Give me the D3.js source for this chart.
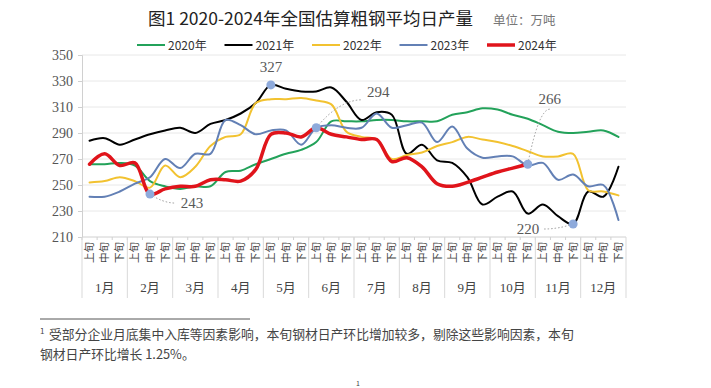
<!DOCTYPE html>
<html>
<head>
<meta charset="utf-8">
<script src="https://cdn.jsdelivr.net/npm/d3@7"></script>
<style>
  body { margin: 0; background: #fff; }
  #chart svg { display: block; }
</style>
</head>
<body>
<div id="chart"></div>
<script>
var months = ["1月", "2月", "3月", "4月", "5月", "6月", "7月", "8月", "9月", "10月", "11月", "12月"];
var tenDays = ["上旬", "中旬", "下旬"];
var yTicks = [210, 230, 250, 270, 290, 310, 330, 350];

var seriesNames = ["2020年", "2021年", "2022年", "2023年", "2024年"];
var v2020 = [266, 266, 267, 265, 253, 249, 247, 249, 249, 260, 261, 266, 270, 274, 277, 283, 299, 299, 299, 300, 300, 299, 299, 299, 304, 306, 309, 308, 304, 301, 296, 291, 290, 291, 292, 287];
var v2021 = [284, 286, 281, 285, 289, 292, 294, 290, 297, 300, 305, 313, 327, 324, 322, 322, 325, 314, 300, 306, 304, 274, 281, 269, 267, 256, 235, 241, 245, 228, 235, 226, 220, 245, 241, 264];
var v2022 = [252, 253, 256, 253, 248, 265, 256, 264, 280, 287, 289, 313, 316, 316, 317, 315, 312, 291, 287, 285, 270, 273, 275, 280, 283, 287, 285, 283, 280, 276, 272, 272, 274, 246, 245, 242];
var v2023 = [241, 241, 245, 251, 256, 270, 263, 274, 274, 300, 296, 289, 292, 292, 281, 294, 296, 294, 294, 305, 294, 296, 298, 283, 295, 278, 271, 272, 272, 265, 267, 254, 258, 249, 250, 223];
var v2024 = [266, 274, 265, 267, 243, 247, 249, 249, 254, 254, 253, 262, 289, 290, 287, 294, 289, 287, 285, 285, 268, 271, 264, 251, 249, 252, 256, 260, 263, 266];

// labelled points: series, period index, label offset
var notes = [
    { s: "2021年", i: 12, dx: 0, dy: -18, lead: false },
    { s: "2024年", i: 15, dx: 62, dy: -36, lead: true },
    { s: "2024年", i: 4, dx: 42, dy: 9, lead: true },
    { s: "2024年", i: 29, dx: 22, dy: -65, lead: true },
    { s: "2021年", i: 32, dx: -45, dy: 5, lead: true }
];

var colors = ["#23a25a", "#000000", "#f2c230", "#6380b5", "#e0141b"];
var widths = [2, 2, 2, 2, 3.5];
var values = [v2020, v2021, v2022, v2023, v2024];

var W = 711, H = 388;
var plotLeft = 82, plotRight = 626, plotTop = 55, plotBottom = 237;

var svg = d3.select("#chart")
  .append("svg")
    .attr("width", W)
    .attr("height", H)
    .style("background", "white");

var periods = [];
months.forEach(function(m, mi) {
    tenDays.forEach(function(t, ti) { periods.push(mi * 3 + ti); });
});

var x = d3.scaleBand()
    .domain(periods)
    .range([plotLeft, plotRight])
    .padding(0);
var bw = x.bandwidth();
var cx = function(i) { return x(i) + bw / 2; };

var y = d3.scaleLinear()
    .domain([210, 350])
    .range([plotBottom, plotTop]);

// title
svg.append("text")
    .attr("x", 148).attr("y", 25)
    .style("font-family", "'Noto Sans CJK SC', sans-serif")
    .style("font-size", "17.5px")
    .style("fill", "#222")
    .text("图1 2020-2024年全国估算粗钢平均日产量");
svg.append("text")
    .attr("x", 493).attr("y", 25)
    .style("font-family", "'Noto Sans CJK SC', sans-serif")
    .style("font-size", "12.5px")
    .style("fill", "#777")
    .text("单位：万吨");

// legend
var legend = svg.append("g")
    .selectAll("g")
    .data(seriesNames)
    .enter()
    .append("g")
      .attr("transform", function(d, i) { return "translate(" + (137 + i * 87.5) + ",45)"; });
legend.append("line")
    .attr("x1", 0).attr("x2", 28)
    .attr("stroke", function(d, i) { return colors[i]; })
    .attr("stroke-width", function(d, i) { return i == 4 ? 3.5 : 2; });
legend.append("text")
    .attr("x", 31).attr("y", 4.5)
    .style("font-family", "'Noto Sans CJK SC', sans-serif")
    .style("font-size", "12px")
    .style("fill", "#333")
    .text(function(d) { return d; });

// grid and y axis
svg.append("g")
    .selectAll("line")
    .data(yTicks)
    .enter()
    .append("line")
      .attr("x1", plotLeft).attr("x2", plotRight)
      .attr("y1", function(d) { return y(d); })
      .attr("y2", function(d) { return y(d); })
      .attr("stroke", function(d) { return d == 210 ? "#d0d0d0" : "#e8e8e8"; })
      .attr("stroke-width", 1);

var yAxis = svg.append("g")
    .attr("transform", "translate(" + plotLeft + ",0)")
    .call(d3.axisLeft(y).tickValues(yTicks).tickSize(4).tickPadding(5));
yAxis.select(".domain").attr("stroke", "#d0d0d0");
yAxis.selectAll(".tick line").attr("stroke", "#d0d0d0");
yAxis.selectAll("text")
    .style("font-family", "'Liberation Serif', serif")
    .style("font-size", "14px")
    .style("fill", "#555");

// x axis: ten-day labels and month groups
var xg = svg.append("g");
xg.selectAll(".tk")
    .data(periods)
    .enter()
    .append("line")
      .attr("x1", function(d) { return x(d); })
      .attr("x2", function(d) { return x(d); })
      .attr("y1", plotBottom).attr("y2", plotBottom + 3)
      .attr("stroke", "#d0d0d0");
xg.selectAll(".tl")
    .data(periods)
    .enter()
    .append("text")
      .attr("transform", function(d) { return "translate(" + (cx(d) + 3.5) + "," + (plotBottom + 5) + ") rotate(-90)"; })
      .attr("text-anchor", "end")
      .style("font-family", "'Noto Sans CJK SC', sans-serif")
      .style("font-size", "10.5px")
      .style("fill", "#444")
      .text(function(d) { return tenDays[d % 3]; });

var monthX = d3.scaleBand().domain(months).range([plotLeft, plotRight]);
xg.selectAll(".sep")
    .data(d3.range(months.length + 1))
    .enter()
    .append("line")
      .attr("x1", function(d) { return plotLeft + d * monthX.step(); })
      .attr("x2", function(d) { return plotLeft + d * monthX.step(); })
      .attr("y1", plotBottom).attr("y2", 298)
      .attr("stroke", "#d9d9d9");
xg.selectAll(".ml")
    .data(months)
    .enter()
    .append("text")
      .attr("x", function(d) { return monthX(d) + monthX.bandwidth() / 2; })
      .attr("y", 292)
      .attr("text-anchor", "middle")
      .style("font-family", "'Liberation Serif', 'Noto Sans CJK SC', serif")
      .style("font-size", "13px")
      .style("fill", "#444")
      .text(function(d) { return d; });

// lines
var line = d3.line()
    .x(function(d, i) { return cx(i); })
    .y(function(d) { return y(d); })
    .curve(d3.curveCatmullRom.alpha(0.5));

svg.append("g")
    .selectAll("path")
    .data(values)
    .enter()
    .append("path")
      .attr("d", function(d) { return line(d); })
      .attr("fill", "none")
      .attr("stroke", function(d, i) { return colors[i]; })
      .attr("stroke-width", function(d, i) { return widths[i]; })
      .attr("stroke-linejoin", "round")
      .attr("stroke-linecap", "round");

// annotations
var ng = svg.append("g");
notes.forEach(function(n) {
    var v = values[seriesNames.indexOf(n.s)][n.i];
    var px = cx(n.i), py = y(v);
    var lx = px + n.dx, ly = py + n.dy;
    if (n.lead) {
        var ex = lx - Math.sign(n.dx) * 16, ey = ly + (n.dy < 0 ? 8 : 0);
        if (Math.abs(n.dx) < 30) { ex = lx; ey = ly + 10; }
        var path = d3.path();
        path.moveTo(px, py);
        path.quadraticCurveTo((px + ex) / 2, ey, ex, ey);
        ng.append("path")
            .attr("d", path.toString())
            .attr("fill", "none")
            .attr("stroke", "#9a9a9a")
            .attr("stroke-width", 1)
            .attr("stroke-dasharray", "1.5,2");
    }
    ng.append("circle")
        .attr("cx", px).attr("cy", py).attr("r", 4.5)
        .attr("fill", "#8eaadb");
    ng.append("text")
        .attr("x", lx).attr("y", ly + 5)
        .attr("text-anchor", "middle")
        .style("font-family", "'Liberation Serif', serif")
        .style("font-size", "15px")
        .style("fill", "#595959")
        .text(v);
});

// footnote
svg.append("line")
    .attr("x1", 40).attr("x2", 250)
    .attr("y1", 319).attr("y2", 319)
    .attr("stroke", "#555");
var fn = svg.append("g")
    .style("font-family", "'Noto Sans CJK SC', sans-serif")
    .style("fill", "#444");
fn.append("text").attr("x", 40).attr("y", 334)
    .style("font-size", "8px").text("1");
fn.append("text").attr("x", 49).attr("y", 339)
    .style("font-size", "12.8px")
    .text("受部分企业月底集中入库等因素影响，本旬钢材日产环比增加较多，剔除这些影响因素，本旬");
fn.append("text").attr("x", 40).attr("y", 359)
    .style("font-size", "12.8px")
    .text("钢材日产环比增长 1.25%。");
fn.append("text").attr("x", 356).attr("y", 386)
    .style("font-size", "7px").text("1");
</script>
</body>
</html>
